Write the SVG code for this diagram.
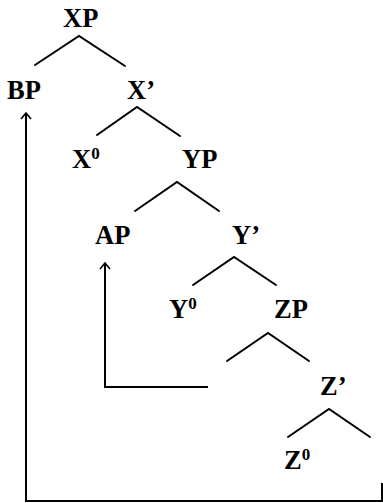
<svg xmlns="http://www.w3.org/2000/svg" width="383" height="503" viewBox="0 0 383 503">
<defs>
<style>
.lbl{font-family:"Liberation Serif","Times New Roman",serif;font-weight:bold;font-size:26.5px;fill:#000}
.sup{font-size:17px}
.br{stroke:#000;stroke-width:2;fill:none;stroke-linecap:round}
.mv{stroke:#000;stroke-width:2;fill:none}
</style>
<marker id="ah" viewBox="0 0 8 12" refX="7" refY="6" markerWidth="8" markerHeight="12" markerUnits="userSpaceOnUse" orient="auto">
<path d="M1,1 L7,6 L1,11" stroke="#000" stroke-width="1.6" fill="none"/>
</marker>
</defs>
<rect width="383" height="503" fill="#fff"/>
<g id="connectors">
<path class="br" d="M35,65 L79,36 L125,66"/>
<path class="br" d="M97,135 L137,107 L180,136"/>
<path class="br" d="M135,211 L177,182 L219,211"/>
<path class="br" d="M193,285 L234,257 L276,285"/>
<path class="br" d="M227,361 L268,333 L309,361"/>
<path class="br" d="M288,437 L329,409 L370,437"/>
<path class="mv" d="M208,387 L105,387 L105,263" marker-end="url(#ah)"/>
<path class="mv" d="M382,483 L382,501 L26,501 L26,113" marker-end="url(#ah)"/>
</g>
<g id="XP"><text class="lbl" x="63" y="27">XP</text></g>
<g id="BP"><text class="lbl" x="7" y="99">BP</text></g>
<g id="Xbar"><text class="lbl" x="127" y="99">X’</text></g>
<g id="X0"><text class="lbl" x="72" y="168">X<tspan class="sup" dy="-9">0</tspan></text></g>
<g id="YP"><text class="lbl" x="182" y="168">YP</text></g>
<g id="AP"><text class="lbl" x="95" y="244">AP</text></g>
<g id="Ybar"><text class="lbl" x="232" y="244">Y’</text></g>
<g id="Y0"><text class="lbl" x="169" y="318">Y<tspan class="sup" dy="-9">0</tspan></text></g>
<g id="ZP"><text class="lbl" x="274" y="318">ZP</text></g>
<g id="Zbar"><text class="lbl" x="320" y="395">Z’</text></g>
<g id="Z0"><text class="lbl" x="284" y="469">Z<tspan class="sup" dy="-9">0</tspan></text></g>
</svg>
